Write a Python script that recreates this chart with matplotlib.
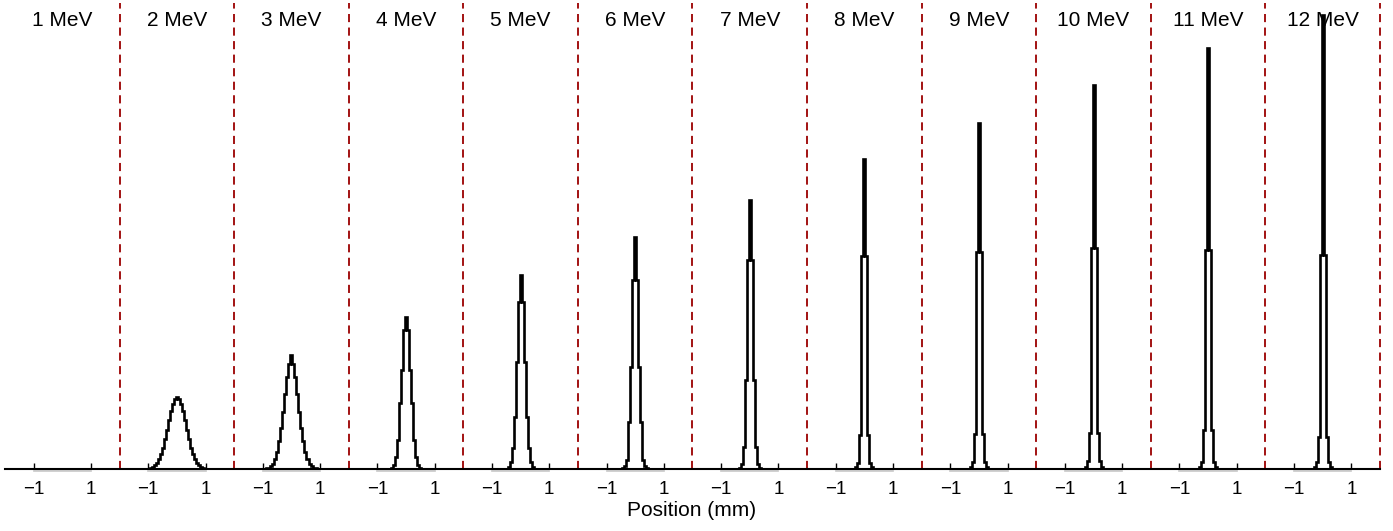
import numpy as np
import matplotlib
matplotlib.use("Agg")
import matplotlib.pyplot as plt
from matplotlib.transforms import offset_copy

plt.rcParams['font.family'] = ['Liberation Sans', 'DejaVu Sans']

# beam energies, one panel each
energies = [1, 2, 3, 4, 5, 6, 7, 8, 9, 10, 11, 12]
energy_labels = [f"{e} MeV" for e in energies]

# half profiles: centre bin first, then bins moving outwards (arb. units)
prof_1mev = [0.0]
prof_2mev = [72, 70, 65, 58, 49, 39, 30, 21.5, 15, 9.7, 6.1, 3.6, 2.0, 1.1, 0.5, 0.3]
prof_3mev = [114, 105, 92, 75, 57, 41, 28, 17, 10, 5, 3, 1.5, 0.7, 0.3]
prof_4mev = [152, 139, 99, 66, 29, 12, 4, 1.5, 0.5]
prof_5mev = [194, 167, 107, 52, 21, 7, 2, 0.5]
prof_6mev = [232, 189, 102, 47, 9, 3, 1]
prof_7mev = [269, 209, 89, 22, 5, 1.5]
prof_8mev = [310, 213, 34, 6, 2]
prof_9mev = [346, 217, 35, 7, 2]
prof_10mev = [384, 221, 36, 8, 2]
prof_11mev = [421, 219, 39, 7, 2]
prof_12mev = [454, 214, 32, 7, 2]

profiles = [prof_1mev, prof_2mev, prof_3mev, prof_4mev, prof_5mev, prof_6mev,
            prof_7mev, prof_8mev, prof_9mev, prof_10mev, prof_11mev, prof_12mev]

bin_w = 0.07      # mm
panel_w = 4.0     # each panel covers -2 .. 2 mm

fig = plt.figure(figsize=(13.93, 5.31), dpi=100)
ax = fig.add_axes([5 / 1393, 62 / 531, 1375 / 1393, 466 / 531])

below = offset_copy(ax.transData, fig=fig, x=0, y=-2, units='dots')

for i, half in enumerate(profiles):
    off = i * panel_w
    half = np.asarray(half, dtype=float)
    vals = np.concatenate([half[:0:-1], half])
    n = len(half) - 1
    inner = (np.arange(-n, n + 2) - 0.5) * bin_w
    edges = np.concatenate([[-2.0], inner, [2.0]]) + off
    vals = np.concatenate([[0.0], vals, [0.0]])
    ax.stairs(vals, edges, color='black', lw=1.9, baseline=None, zorder=3)

    # faint grey underline between the -1 and 1 ticks
    ax.plot([off - 1, off + 1], [0, 0], color='#c8c8c8', lw=1.2,
            transform=below, clip_on=False, zorder=1)

    # panel separator and label
    ax.axvline(off + 2.0, color='#9b0000', lw=1.3, dashes=(4.5, 3),
               clip_on=False, zorder=2)
    ax.text(off, 0.962, energy_labels[i], transform=ax.get_xaxis_transform(),
            ha='center', va='center', fontsize=15)

ticks = []
for i in range(len(energies)):
    ticks += [i * panel_w - 1, i * panel_w + 1]
ax.set_xticks(ticks)
ax.set_xticklabels(['\u22121', '1'] * len(energies))
ax.set_xlim(-2, len(energies) * panel_w - 2)
ax.set_ylim(0, 466)
ax.set_yticks([])

for s in ['top', 'left', 'right']:
    ax.spines[s].set_visible(False)
ax.spines['bottom'].set_linewidth(1.5)
ax.tick_params(axis='x', direction='in', length=4, width=1, pad=9, labelsize=13.5)

fig.text(692 / 1393, 1 - 510 / 531, "Position (mm)", ha='center', va='center', fontsize=15)

fig.savefig("out.png", dpi=100)
